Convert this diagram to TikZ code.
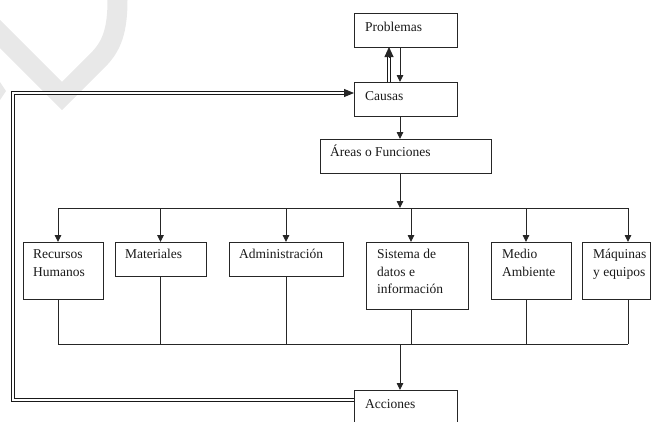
\documentclass[tikz,border=0pt]{standalone}
\usepackage{fontspec}
\setmainfont{Liberation Serif}
\usetikzlibrary{arrows.meta,calc}
\begin{document}
\begin{tikzpicture}[x=1pt,y=-1pt,
  box/.style={draw=black!85, line width=0.9pt, rectangle, inner sep=0pt, outer sep=0pt},
  lbl/.style={anchor=base west, inner sep=0pt, font=\fontsize{13.5}{17.5}\selectfont, text=black!90},
  wire/.style={draw=black!85, line width=0.9pt},
  arr/.style={wire, -{Triangle[width=6.5pt,length=7pt]}},
  dbl/.style={draw=black!90, double=white, double distance=1.2pt, line width=1.1pt},
  bigarr/.style={wire, -{Triangle[width=9pt,length=10pt]}},
]
\useasboundingbox (0,0) rectangle (652,421);
\clip (0,0) rectangle (652,421);

% faint background mark
\draw[black!9, line width=20pt, line join=miter] (-10,24) -- (62,96) -- (98,60)
  .. controls (112,46) and (117.5,30) .. (117.5,0) -- (117.5,-5);
\fill[black!9] (0,82) -- (6,91) -- (0,100) -- cycle;

% boxes
\node[box, minimum width=103pt, minimum height=34pt] (prob)   at (405.5,30)  {};
\node[box, minimum width=103pt, minimum height=34pt] (causas) at (405.5,99)  {};
\node[box, minimum width=171pt, minimum height=34pt] (areas)  at (405.5,156) {};
\node[box, minimum width=80pt,  minimum height=57pt] (rh)     at (63,270.5)  {};
\node[box, minimum width=91pt,  minimum height=34pt] (mat)    at (160.5,259) {};
\node[box, minimum width=114pt, minimum height=34pt] (adm)    at (286,259)   {};
\node[box, minimum width=102pt, minimum height=67pt] (sis)    at (417,275.5) {};
\node[box, minimum width=80pt,  minimum height=57pt] (med)    at (531,270.5) {};
\node[box, minimum width=68pt,  minimum height=57pt] (maq)    at (616,270.5) {};
\node[box, minimum width=103pt, minimum height=40pt] (acc)    at (405.5,410) {};

% labels
\node[lbl] (probT)   at ([xshift=11pt,yshift=-18.5pt]prob.north west)   {Problemas};
\node[lbl] (causasT) at ([xshift=11pt,yshift=-18pt]causas.north west)   {Causas};
\node[lbl] (areasT)  at ([xshift=10pt,yshift=-17.5pt]areas.north west)  {Áreas o Funciones};
\node[lbl] (rhT)     at ([xshift=10pt,yshift=-16.5pt]rh.north west)
  {\begin{tabular}[t]{@{}l@{}}Recursos\\Humanos\end{tabular}};
\node[lbl] (matT)    at ([xshift=10pt,yshift=-16.5pt]mat.north west)    {Materiales};
\node[lbl] (admT)    at ([xshift=10pt,yshift=-16.5pt]adm.north west)    {Administración};
\node[lbl] (sisT)    at ([xshift=11pt,yshift=-16.5pt]sis.north west)
  {\begin{tabular}[t]{@{}l@{}}Sistema de\\datos e\\información\end{tabular}};
\node[lbl] (medT)    at ([xshift=11pt,yshift=-16.5pt]med.north west)
  {\begin{tabular}[t]{@{}l@{}}Medio\\Ambiente\end{tabular}};
\node[lbl] (maqT)    at ([xshift=11pt,yshift=-16.5pt]maq.north west)
  {\begin{tabular}[t]{@{}l@{}}Máquinas\\y equipos\end{tabular}};
\node[lbl] (accT)    at ([xshift=11pt,yshift=-18.5pt]acc.north west)    {Acciones};

% bus levels
\coordinate (topbus) at (0,208);
\coordinate (botbus) at (0,344);
\coordinate (leftx)  at (13,0);
\coordinate (mid)    at (400,0);

% main chain
\draw[arr] (prob.south -| mid) -- (causas.north -| mid);
\draw[arr] (causas.south -| mid) -- (areas.north -| mid);
\draw[arr] (areas.south -| mid) -- (mid |- topbus);

% return Causas -> Problemas
\coordinate (upx) at ([xshift=35pt]causas.north west);
\coordinate (upy) at (upx |- prob.south);
\draw[dbl, shorten >=9pt] (upx) -- (upy);
\draw[bigarr] ([yshift=-10pt]upy) -- (upy);

% top distribution bus
\coordinate (c1) at ([xshift=-5pt]rh.north);
\coordinate (c2) at (mat.north);
\coordinate (c3) at (adm.north);
\coordinate (c4) at ([xshift=-6pt]sis.north);
\coordinate (c5) at ([xshift=-5pt]med.north);
\coordinate (c6) at ([xshift=12pt]maq.north);
\draw[wire] (c1 |- topbus) -- (c6 |- topbus);
\foreach \c/\b in {c1/rh, c2/mat, c3/adm, c4/sis, c5/med, c6/maq}{
  \draw[arr] (\c |- topbus) -- (\c |- \b.north);
  \draw[wire] (\c |- \b.south) -- (\c |- botbus);
}
\draw[wire] (c1 |- botbus) -- (c6 |- botbus);
\draw[arr] (mid |- botbus) -- (mid |- acc.north);

% feedback Acciones -> Causas
\coordinate (fbA) at ([yshift=-10pt]acc.north west);
\coordinate (fbB) at ([yshift=-11pt]causas.north west);
\draw[dbl, shorten >=9pt] (fbA) -- (fbA -| leftx) -- (leftx |- fbB) -- (fbB);
\draw[arr, -{Triangle[width=8pt,length=10pt]}] ([xshift=-10pt]fbB) -- (fbB);
\end{tikzpicture}
\end{document}
